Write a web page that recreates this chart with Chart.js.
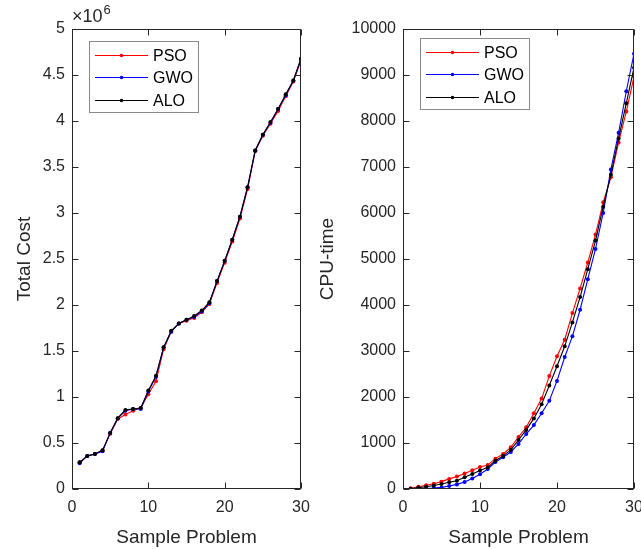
<!DOCTYPE html>
<html>
<head>
<meta charset="utf-8">
<script src="https://cdn.jsdelivr.net/npm/chart.js@4.4.0/dist/chart.umd.min.js"></script>
<style>
  html, body { margin: 0; padding: 0; background: #fff; overflow: hidden; }
  #wrap { position: relative; width: 641px; height: 549px; }
  .box { position: absolute; top: 0; height: 549px; }
  #left { left: 0; width: 310px; }
  #right { left: 310px; width: 331px; }
</style>
</head>
<body>
<div id="wrap">
  <div class="box" id="left"><canvas id="costChart"></canvas></div>
  <div class="box" id="right"><canvas id="timeChart"></canvas></div>
</div>
<script>
const problems = [1,2,3,4,5,6,7,8,9,10,11,12,13,14,15,16,17,18,19,20,21,22,23,24,25,26,27,28,29,30];
const xTicks = [0, 10, 20, 30];

// total cost, in units of 10^6
const costPSO = [0.29,0.36,0.38,0.42,0.60,0.76,0.81,0.85,0.88,1.03,1.17,1.52,1.71,1.80,1.83,1.86,1.92,2.01,2.24,2.46,2.69,2.94,3.26,3.67,3.84,3.97,4.11,4.27,4.43,4.66];
const costGWO = [0.28,0.36,0.38,0.41,0.61,0.77,0.85,0.87,0.87,1.06,1.22,1.54,1.71,1.80,1.84,1.87,1.93,2.02,2.26,2.48,2.71,2.96,3.28,3.68,3.85,3.98,4.13,4.28,4.44,4.67];
const costALO = [0.29,0.36,0.38,0.42,0.61,0.77,0.86,0.87,0.88,1.07,1.23,1.54,1.72,1.80,1.84,1.88,1.94,2.03,2.26,2.48,2.71,2.96,3.28,3.68,3.85,3.99,4.13,4.29,4.44,4.68];
const costTicks = [0,0.5,1,1.5,2,2.5,3,3.5,4,4.5,5];

// CPU time
const timePSO = [15,50,80,115,160,220,270,335,405,480,520,660,760,905,1130,1340,1645,1965,2455,2885,3246,3825,4360,4924,5531,6232,6775,7534,8206,8965];
const timeGWO = [0,5,10,20,35,65,100,150,230,320,435,585,690,805,980,1195,1390,1645,1920,2350,2870,3318,3897,4562,5220,6001,6948,7743,8647,9464];
const timeALO = [7,30,50,75,110,145,180,255,325,400,470,615,720,850,1065,1285,1535,1840,2250,2668,3102,3622,4172,4779,5401,6138,6832,7620,8387,9160];
const timeTicks = [0,1000,2000,3000,4000,5000,6000,7000,8000,9000,10000];

const FONT = "'Liberation Sans', Arial, sans-serif";
const INK = '#262626';

Chart.defaults.font.family = FONT;
Chart.defaults.color = INK;

// box round the plot, ticks pointing in on all four sides, legend, exponent
const matlabFrame = {
  id: 'matlabFrame',
  afterDraw(chart, args, opts) {
    const ctx = chart.ctx, a = chart.chartArea;
    const xs = chart.scales.x, ys = chart.scales.y;
    const L = Math.round(a.left) + 0.5, R = Math.round(a.right) - 0.5;
    const T = Math.round(a.top) + 0.5, B = Math.round(a.bottom) - 0.5;
    ctx.save();
    ctx.strokeStyle = INK;
    ctx.lineWidth = 1;
    ctx.strokeRect(L, T, R - L, B - T);
    ctx.beginPath();
    xs.ticks.forEach(t => {
      const px = Math.round(xs.getPixelForValue(t.value)) + 0.5;
      ctx.moveTo(px, B); ctx.lineTo(px, B - 6);
      ctx.moveTo(px, T); ctx.lineTo(px, T + 6);
    });
    ys.ticks.forEach(t => {
      const py = Math.round(ys.getPixelForValue(t.value)) + 0.5;
      ctx.moveTo(L, py); ctx.lineTo(L + 6, py);
      ctx.moveTo(R, py); ctx.lineTo(R - 6, py);
    });
    ctx.stroke();

    if (opts.exponent) {
      ctx.fillStyle = INK;
      ctx.textBaseline = 'alphabetic';
      ctx.font = '18px ' + FONT;
      ctx.fillText('\u00d710', a.left, a.top - 7);
      const w = ctx.measureText('\u00d710').width;
      ctx.font = '13px ' + FONT;
      ctx.fillText('6', a.left + w + 1, a.top - 15);
    }

    // legend
    const lx = a.left + opts.legendX, ly = a.top + opts.legendY;
    ctx.fillStyle = '#fff';
    ctx.fillRect(lx, ly, 109, 71);
    ctx.strokeStyle = '#8a8a8a';
    ctx.strokeRect(Math.round(lx) + 0.5, Math.round(ly) + 0.5, 109, 71);
    ctx.font = '16px ' + FONT;
    ctx.textBaseline = 'middle';
    chart.data.datasets.forEach((ds, i) => {
      const ry = Math.round(ly + 13.5 + i * 22.5) + 0.5;
      ctx.strokeStyle = ds.borderColor;
      ctx.beginPath();
      ctx.moveTo(lx + 6, ry); ctx.lineTo(lx + 59, ry);
      ctx.stroke();
      ctx.fillStyle = ds.borderColor;
      ctx.beginPath();
      ctx.arc(lx + 32.5, ry, 1.8, 0, Math.PI * 2);
      ctx.fill();
      ctx.fillStyle = '#000';
      ctx.fillText(ds.label, lx + 64, ry + 1);
    });
    ctx.restore();
  }
};

function series(label, data, color, order) {
  return {
    label: label,
    data: data,
    borderColor: color,
    backgroundColor: color,
    borderWidth: 1.1,
    pointRadius: 2,
    pointBorderWidth: 0,
    pointHoverRadius: 2,
    tension: 0,
    order: order,
  };
}

function makeChart(canvasId, cfg) {
  return new Chart(document.getElementById(canvasId), {
    type: 'line',
    data: {
      labels: problems,
      datasets: [
        series('PSO', cfg.pso, '#ff0000', 2),
        series('GWO', cfg.gwo, '#0000ff', 1),
        series('ALO', cfg.alo, '#000000', 0),
      ],
    },
    plugins: [matlabFrame],
    options: {
      responsive: true,
      maintainAspectRatio: false,
      animation: false,
      events: [],
      layout: { padding: cfg.padding },
      plugins: {
        legend: { display: false },
        tooltip: { enabled: false },
        matlabFrame: { exponent: cfg.exponent, legendX: cfg.legendX, legendY: cfg.legendY },
      },
      scales: {
        x: {
          type: 'linear',
          min: 0, max: 30,
          grid: { display: false, drawTicks: false },
          border: { display: false },
          afterBuildTicks: s => { s.ticks = xTicks.map(v => ({ value: v })); },
          afterFit: s => { s.height = 60; s.paddingLeft = 0; s.paddingRight = 0; },
          ticks: { padding: 9, maxRotation: 0, font: { size: 16 }, color: INK, callback: v => String(v) },
          title: { display: true, text: 'Sample Problem', font: { size: 19 }, color: INK, padding: { top: 0, bottom: 0 } },
        },
        y: {
          min: cfg.yTicks[0], max: cfg.yTicks[cfg.yTicks.length - 1],
          grid: { display: false, drawTicks: false },
          border: { display: false },
          afterBuildTicks: s => { s.ticks = cfg.yTicks.map(v => ({ value: v })); },
          afterFit: s => { s.width = cfg.yWidth; s.paddingTop = 0; s.paddingBottom = 0; },
          ticks: { padding: 7, font: { size: 16 }, color: INK, callback: v => String(v) },
          title: { display: true, text: cfg.yTitle, font: { size: 19 }, color: INK, padding: { top: 4, bottom: 4 } },
        },
      },
    },
  });
}

makeChart('costChart', {
  pso: costPSO, gwo: costGWO, alo: costALO,
  yTicks: costTicks, yTitle: 'Total Cost', yWidth: 63,
  padding: { left: 9, top: 29, right: 9, bottom: 0 },
  exponent: true, legendX: 17, legendY: 12,
});

makeChart('timeChart', {
  pso: timePSO, gwo: timeGWO, alo: timeALO,
  yTicks: timeTicks, yTitle: 'CPU-time', yWidth: 91,
  padding: { left: 2, top: 29, right: 7, bottom: 0 },
  exponent: false, legendX: 17, legendY: 9,
});
</script>
</body>
</html>
